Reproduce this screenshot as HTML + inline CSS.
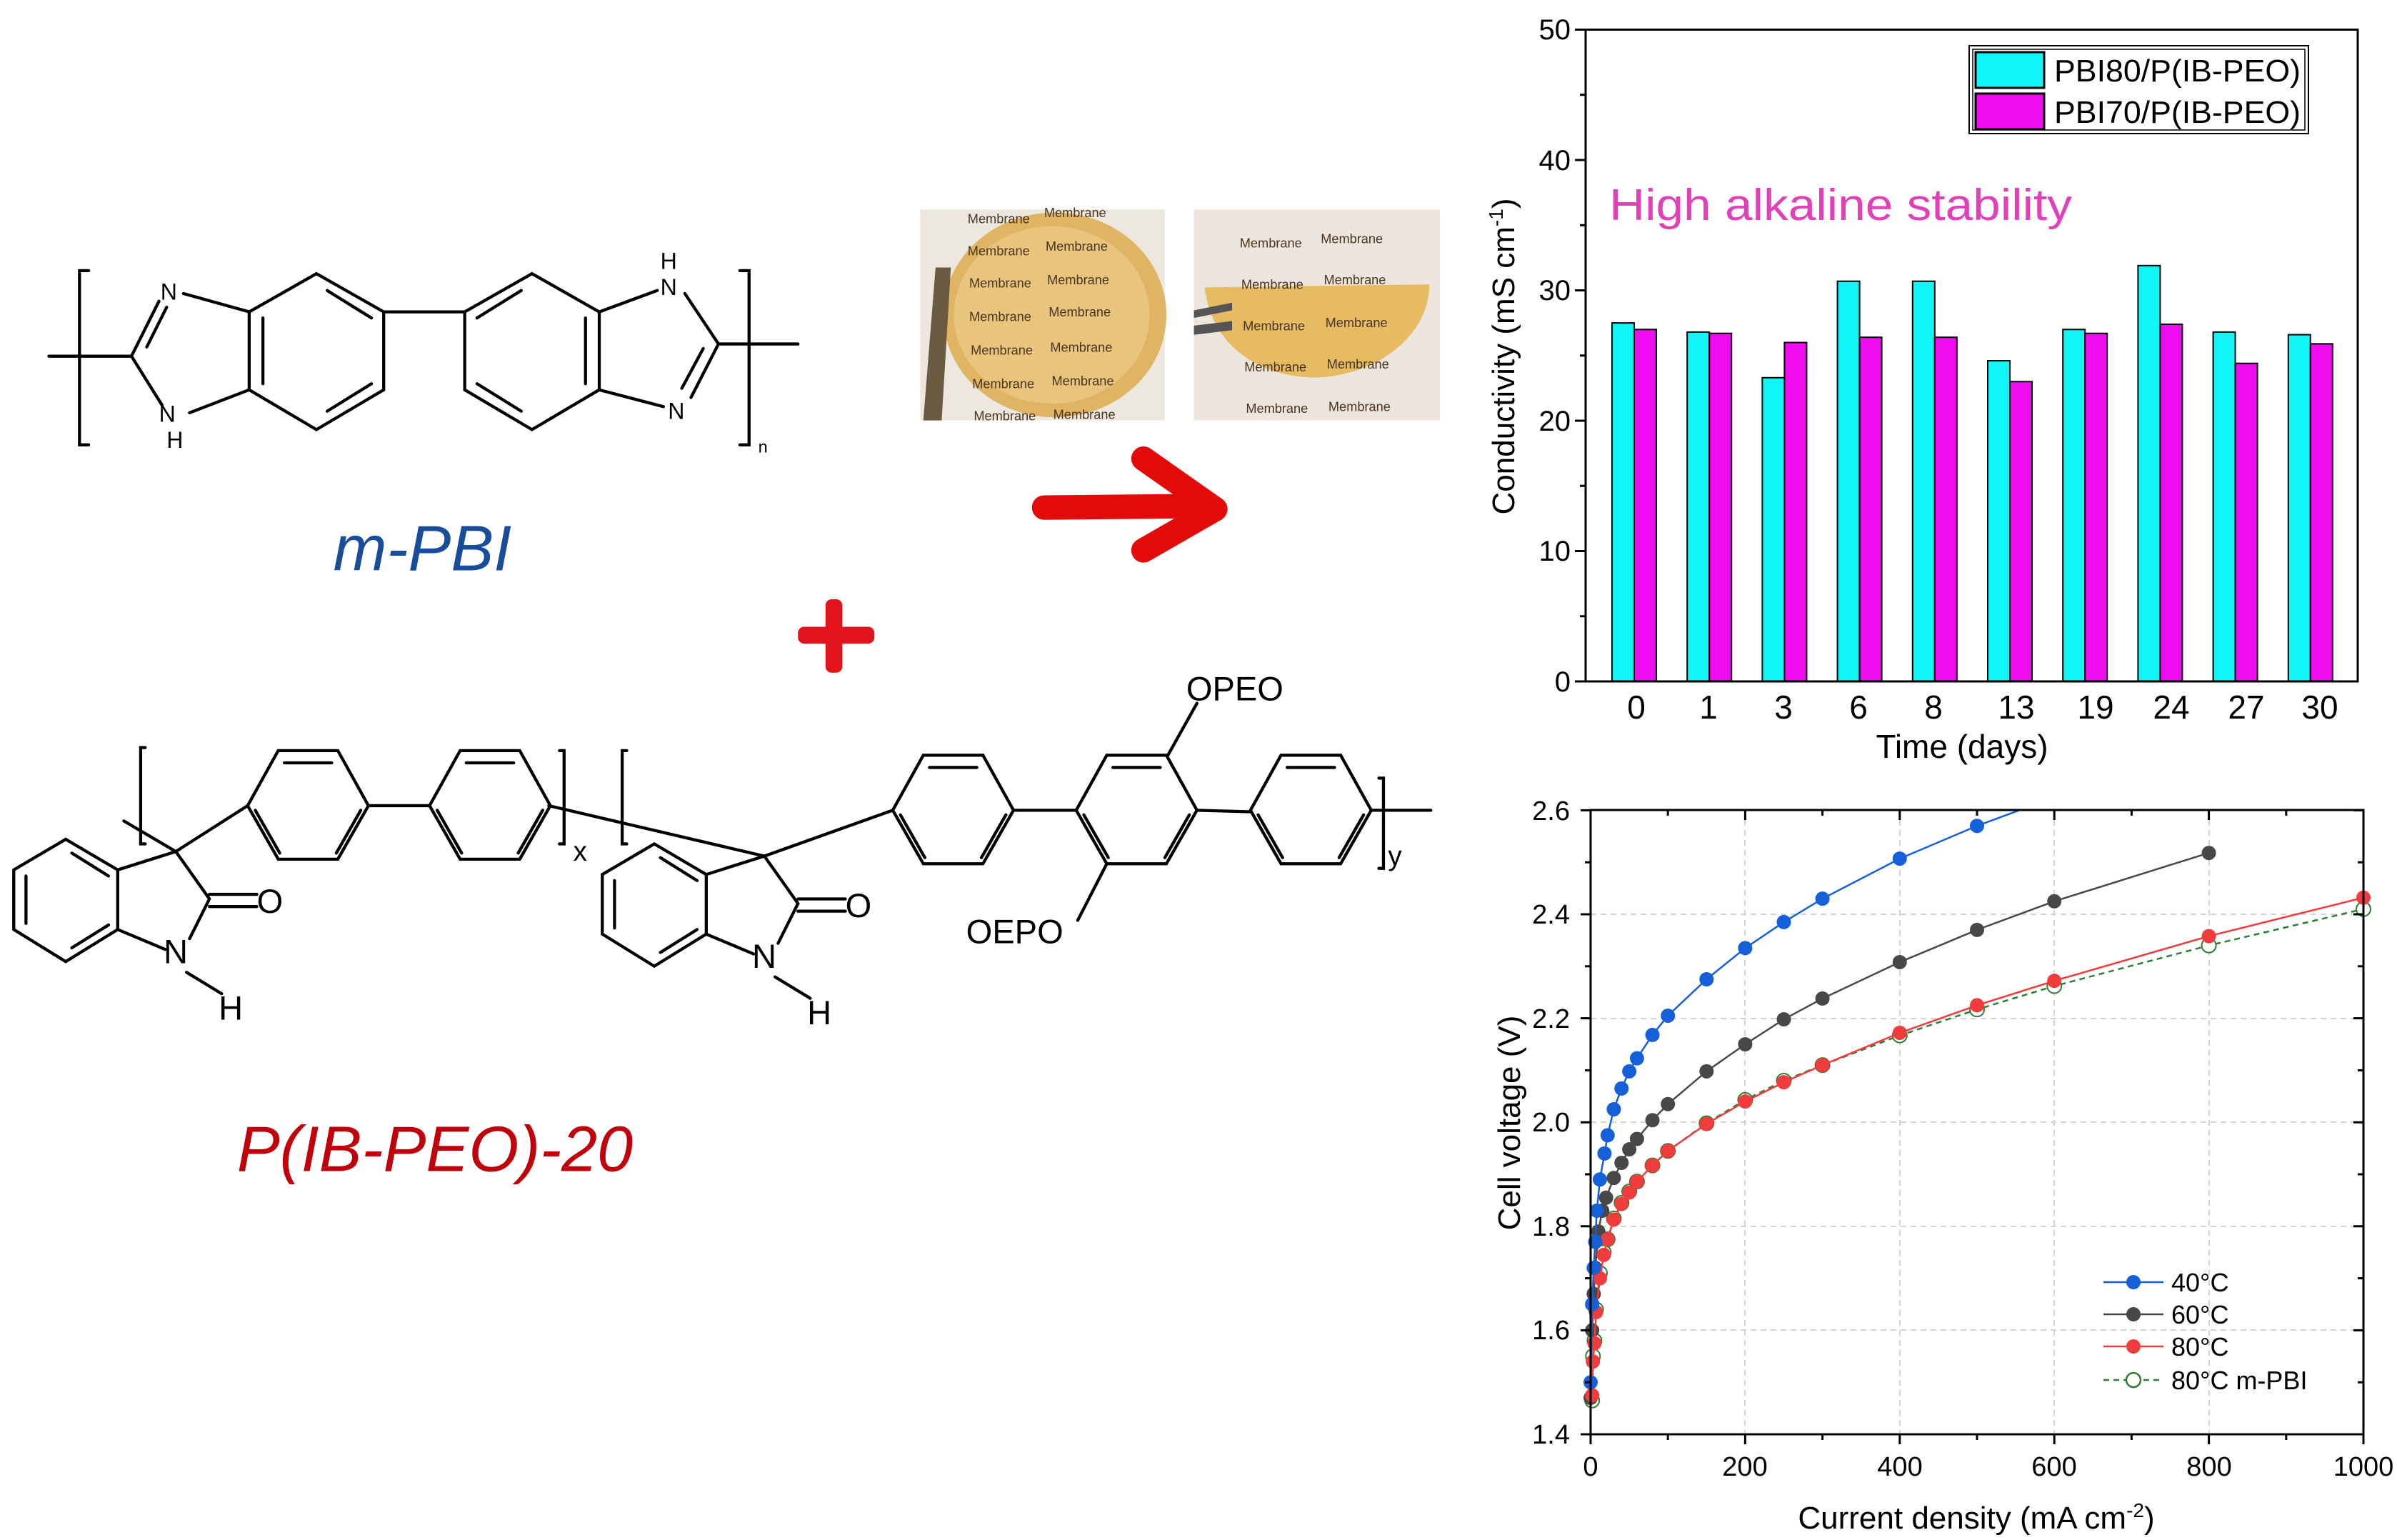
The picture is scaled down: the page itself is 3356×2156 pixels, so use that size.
<!DOCTYPE html>
<html><head><meta charset="utf-8">
<style>
html,body{margin:0;padding:0;background:#fff;}
svg{display:block;}
text{font-family:"Liberation Sans",Arial,sans-serif;}
</style></head>
<body>
<svg id="s" width="3356" height="2156" viewBox="0 0 3356 2156" xmlns="http://www.w3.org/2000/svg">
<rect width="3356" height="2156" fill="#fff"/>
<g transform="scale(2.1403)" stroke="#000" stroke-width="2" fill="none" stroke-linecap="round">
  <path d="M58,177 L52,177 L52,291 L58,291"/>
  <path d="M484,177 L490,177 L490,291 L484,291"/>
  <line x1="32" y1="233" x2="86" y2="233"/>
  <line x1="470" y1="225" x2="522" y2="225"/>
  <polygon points="207,179 251,204 251,255 207,281 163,255 163,204"/>
  <line x1="214" y1="190" x2="243" y2="208"/><line x1="243" y1="251" x2="214" y2="269"/><line x1="172" y1="208" x2="172" y2="251"/>
  <polygon points="348,179 392,204 392,255 348,281 304,255 304,204"/>
  <line x1="341" y1="190" x2="312" y2="208"/><line x1="312" y1="251" x2="341" y2="269"/><line x1="383" y1="208" x2="383" y2="251"/>
  <line x1="251" y1="204" x2="304" y2="204"/>
  <path d="M163,204 L120,192 M104,197 L86,233 L106,265 M124,270 L163,255"/>
  <line x1="96" y1="227" x2="109" y2="201"/>
  <path d="M392,204 L430,190 M448,192 L470,225 L452,260 M434,266 L392,255"/>
  <line x1="460" y1="228" x2="446" y2="254"/>
</g>
<g transform="scale(2.1403)" font-size="15" fill="#000">
  <text x="105" y="196">N</text>
  <text x="104" y="276">N</text><text x="109" y="293">H</text>
  <text x="432" y="176">H</text><text x="432" y="193">N</text>
  <text x="437" y="274">N</text>
  <text x="496" y="296" font-size="11">n</text>
  <text x="218" y="373" font-size="42" fill="#1a4c9c" font-style="italic" font-family="DejaVu Sans">m-PBI</text>
  <text x="155" y="766" font-size="42" fill="#c0000a" font-style="italic" font-family="DejaVu Sans">P(IB-PEO)-20</text>
</g>
<g transform="scale(2.1403)" fill="#e0141a">
  <rect x="522" y="410" width="50" height="11" rx="4"/>
  <rect x="540" y="392" width="11" height="48" rx="4"/>
</g>
<g transform="scale(2.1403)" stroke="#e30a0a" stroke-linecap="round" stroke-linejoin="round" fill="none">
  <line x1="683" y1="332" x2="788" y2="331" stroke-width="16"/>
  <polyline points="748,300 795,333 748,360" stroke-width="16"/>
</g>
<g transform="scale(2.1403)">
  <rect x="602" y="137" width="160" height="138" fill="#ece7df"/>
  <ellipse cx="690" cy="206" rx="73" ry="67" fill="#dfb563"/>
  <ellipse cx="688" cy="206" rx="64" ry="58" fill="#e8c47c"/>
  <path d="M604,275 L612,175 L622,175 L616,275 Z" fill="#6b5a42"/>
  <rect x="781" y="137" width="161" height="138" fill="#ece6de"/>
  <path d="M788,188 L935,186 C935,220 900,246 860,247 C818,246 792,222 788,188 Z" fill="#e6bb62"/>
  <path d="M781,203 L806,198 L806,203 L781,208 Z M781,213 L806,210 L806,216 L781,219 Z" fill="#555"/>
</g>
<g transform="scale(2.1403)" font-size="8.5" fill="#4a3520">
  <text x="633" y="146">Membrane</text><text x="683" y="142">Membrane</text>
  <text x="633" y="167">Membrane</text><text x="684" y="164">Membrane</text>
  <text x="634" y="188">Membrane</text><text x="685" y="186">Membrane</text>
  <text x="634" y="210">Membrane</text><text x="686" y="207">Membrane</text>
  <text x="635" y="232">Membrane</text><text x="687" y="230">Membrane</text>
  <text x="636" y="254">Membrane</text><text x="688" y="252">Membrane</text>
  <text x="637" y="275">Membrane</text><text x="689" y="274">Membrane</text>
  <text x="811" y="162">Membrane</text><text x="864" y="159">Membrane</text>
  <text x="812" y="189">Membrane</text><text x="866" y="186">Membrane</text>
  <text x="813" y="216">Membrane</text><text x="867" y="214">Membrane</text>
  <text x="814" y="243">Membrane</text><text x="868" y="241">Membrane</text>
  <text x="815" y="270">Membrane</text><text x="869" y="269">Membrane</text>
</g>
<g transform="scale(2.1403)" stroke="#000" stroke-width="2" fill="none" stroke-linecap="round">
  <path d="M95,489 L92,489 L92,552 L95,552"/>
  <path d="M366,491 L369,491 L369,552 L366,552"/>
  <path d="M410,491 L407,491 L407,552 L410,552"/>
  <path d="M902,509 L905,509 L905,568 L902,568"/>
  <g id="hx">
  <polygon points="182,491 221,491 241,527 221,562 182,562 162,527"/>
  <line x1="186" y1="499" x2="217" y2="499"/><line x1="167" y1="530" x2="183" y2="558"/><line x1="236" y1="530" x2="220" y2="558"/>
  </g>
  <use href="#hx" x="119" y="0"/>
  <use href="#hx" x="422" y="3"/>
  <use href="#hx" x="542" y="3"/>
  <use href="#hx" x="656" y="3"/>
  <line x1="241" y1="527" x2="281" y2="527"/>
  <line x1="663" y1="530" x2="704" y2="530"/>
  <line x1="783" y1="530" x2="818" y2="531"/>
  <line x1="897" y1="530" x2="936" y2="530"/>
  <line x1="764" y1="494" x2="783" y2="460"/>
  <line x1="724" y1="565" x2="705" y2="602"/>
  <g id="is">
  <polygon points="43,549 77,569 77,608 43,629 9,608 9,569"/>
  <line x1="47" y1="558" x2="71" y2="573"/><line x1="17" y1="573" x2="17" y2="604"/><line x1="47" y1="620" x2="71" y2="605"/>
  <path d="M77,569 L115,557 L137,588 L124,614 M108,621 L77,608"/>
  <line x1="137" y1="585" x2="168" y2="585"/><line x1="137" y1="593" x2="168" y2="593"/>
  <line x1="122" y1="636" x2="145" y2="650"/>
  </g>
  <use href="#is" x="385" y="3"/>
  <line x1="81" y1="537" x2="115" y2="557"/>
  <line x1="115" y1="557" x2="162" y2="527"/>
  <line x1="359" y1="527" x2="500" y2="560"/>
  <line x1="500" y1="560" x2="584" y2="530"/>
</g>
<g transform="scale(2.1403)" font-size="22" fill="#000">
  <text x="168" y="597">O</text><text x="107" y="630">N</text><text x="143" y="667">H</text>
  <text x="553" y="600">O</text><text x="492" y="633">N</text><text x="528" y="670">H</text>
  <text x="776" y="458">OPEO</text><text x="632" y="617">OEPO</text>
  <text x="375" y="563" font-size="18">x</text><text x="908" y="566" font-size="18">y</text>
</g>

<g id="bars"></g>
<rect x="2220" y="41.5" width="1081" height="912.5" fill="none" stroke="#000" stroke-width="3"/>
<g stroke="#000" stroke-width="3">
  <line x1="2205" y1="954" x2="2220" y2="954"/><line x1="2205" y1="771.5" x2="2220" y2="771.5"/><line x1="2205" y1="589" x2="2220" y2="589"/><line x1="2205" y1="406.5" x2="2220" y2="406.5"/><line x1="2205" y1="224" x2="2220" y2="224"/><line x1="2205" y1="41.5" x2="2220" y2="41.5"/>
  <line x1="2212" y1="862.75" x2="2220" y2="862.75"/><line x1="2212" y1="680.25" x2="2220" y2="680.25"/><line x1="2212" y1="497.75" x2="2220" y2="497.75"/><line x1="2212" y1="315.25" x2="2220" y2="315.25"/><line x1="2212" y1="132.75" x2="2220" y2="132.75"/>
</g>
<g font-size="40" text-anchor="end" fill="#000">
  <text x="2199" y="968">0</text><text x="2199" y="785">10</text><text x="2199" y="603">20</text><text x="2199" y="420">30</text><text x="2199" y="238">40</text><text x="2199" y="55">50</text>
</g>
<g font-size="46" text-anchor="middle" fill="#000">
  <text x="2291" y="1006">0</text><text x="2392" y="1006">1</text><text x="2497" y="1006">3</text><text x="2602" y="1006">6</text><text x="2707" y="1006">8</text><text x="2823" y="1006">13</text><text x="2934" y="1006">19</text><text x="3040" y="1006">24</text><text x="3145" y="1006">27</text><text x="3248" y="1006">30</text>
  <text x="2747" y="1061" font-size="46">Time (days)</text>
</g>
<text transform="translate(2120,499) rotate(-90)" font-size="44" text-anchor="middle">Conductivity (mS cm<tspan dy="-16" font-size="28">-1</tspan><tspan dy="16">)</tspan></text>
<text x="2253" y="308" font-size="62" fill="#e040b8" font-family="DejaVu Sans" textLength="648" lengthAdjust="spacingAndGlyphs">High alkaline stability</text>
<rect x="2757" y="64" width="475" height="123" fill="#fff" stroke="#000" stroke-width="2"/>
<rect x="2762" y="69" width="465" height="113" fill="none" stroke="#000" stroke-width="1.5"/>
<rect x="2766" y="73" width="96" height="50" fill="#10f5f5" stroke="#000" stroke-width="3"/>
<rect x="2766" y="131" width="96" height="50" fill="#f00cf0" stroke="#000" stroke-width="3"/>
<g font-size="44" fill="#000">
  <text x="2876" y="114" textLength="345" lengthAdjust="spacingAndGlyphs">PBI80/P(IB-PEO)</text>
  <text x="2876" y="172" textLength="345" lengthAdjust="spacingAndGlyphs">PBI70/P(IB-PEO)</text>
</g>

<g stroke="#d4d4d4" stroke-width="2" stroke-dasharray="8,6">
  <line x1="2443" y1="1134" x2="2443" y2="2008"/><line x1="2660" y1="1134" x2="2660" y2="2008"/><line x1="2876" y1="1134" x2="2876" y2="2008"/><line x1="3093" y1="1134" x2="3093" y2="2008"/>
  <line x1="2227" y1="1862" x2="3309" y2="1862"/><line x1="2227" y1="1717" x2="3309" y2="1717"/><line x1="2227" y1="1571" x2="3309" y2="1571"/><line x1="2227" y1="1426" x2="3309" y2="1426"/><line x1="2227" y1="1280" x2="3309" y2="1280"/>
</g>
<clipPath id="pc"><rect x="2216" y="1134" width="1104" height="885"/></clipPath>
<g id="lines" clip-path="url(#pc)"></g>
<rect x="2227" y="1134" width="1082" height="874" fill="none" stroke="#000" stroke-width="3"/>
<g id="lticks" stroke="#000" stroke-width="3"></g>
<g font-size="38" text-anchor="end" fill="#000">
  <text x="2198" y="2021">1.4</text><text x="2198" y="1875">1.6</text><text x="2198" y="1730">1.8</text><text x="2198" y="1584">2.0</text><text x="2198" y="1439">2.2</text><text x="2198" y="1293">2.4</text><text x="2198" y="1148">2.6</text>
</g>
<g font-size="38" text-anchor="middle" fill="#000">
  <text x="2227" y="2066">0</text><text x="2443" y="2066">200</text><text x="2660" y="2066">400</text><text x="2876" y="2066">600</text><text x="3093" y="2066">800</text><text x="3309" y="2066">1000</text>
</g>
<text x="2767" y="2140" font-size="44" text-anchor="middle">Current density (mA cm<tspan dy="-16" font-size="28">-2</tspan><tspan dy="16">)</tspan></text>
<text transform="translate(2128,1572) rotate(-90)" font-size="44" text-anchor="middle">Cell voltage (V)</text>
<g stroke-width="2.5">
  <line x1="2945" y1="1795" x2="3029" y2="1795" stroke="#1560d8"/><circle cx="2987" cy="1795" r="10" fill="#1560d8"/>
  <line x1="2945" y1="1840" x2="3029" y2="1840" stroke="#484848"/><circle cx="2987" cy="1840" r="10" fill="#484848"/>
  <line x1="2945" y1="1885" x2="3029" y2="1885" stroke="#f03c3c"/><circle cx="2987" cy="1885" r="10" fill="#f03c3c"/>
  <line x1="2945" y1="1932" x2="3029" y2="1932" stroke="#2e7d32" stroke-dasharray="8,6"/><circle cx="2987" cy="1932" r="10" fill="#fff" stroke="#2e7d32"/>
</g>
<g font-size="36" fill="#000">
  <text x="3040" y="1808">40°C</text><text x="3040" y="1853">60°C</text><text x="3040" y="1898">80°C</text><text x="3040" y="1945">80°C m-PBI</text>
</g>
</svg>
<script>
var NS="http://www.w3.org/2000/svg";
function el(p,t,a){var e=document.createElementNS(NS,t);for(var k in a)e.setAttribute(k,a[k]);p.appendChild(e);return e;}
var bars=document.getElementById('bars');
var cy=[27.5,26.8,23.3,30.7,30.7,24.6,27.0,31.9,26.8,26.6],mg=[27.0,26.7,26.0,26.4,26.4,23.0,26.7,27.4,24.4,25.9];
for(var i=0;i<10;i++){var c=2288+i*105.2;
 el(bars,'rect',{x:c-31,y:954-18.25*cy[i],width:31,height:18.25*cy[i],fill:'#10f5f5',stroke:'#000','stroke-width':2});
 el(bars,'rect',{x:c,y:954-18.25*mg[i],width:31,height:18.25*mg[i],fill:'#f00cf0',stroke:'#000','stroke-width':2});}
function X(v){return 2227+1.082*v;}function Y(v){return 2008-728*(v-1.4);}
var s40=[[0,1.5],[2,1.65],[4,1.72],[6,1.77],[8,1.83],[12,1.89],[18,1.94],[22,1.975],[30,2.025],[40,2.065],[50,2.098],[60,2.123],[80,2.168],[100,2.205],[150,2.275],[200,2.335],[250,2.385],[300,2.43],[400,2.507],[500,2.57],[600,2.625]];
var s60=[[0,1.47],[2,1.6],[4,1.67],[6,1.72],[10,1.79],[15,1.83],[20,1.855],[30,1.893],[40,1.922],[50,1.948],[60,1.968],[80,2.004],[100,2.035],[150,2.098],[200,2.15],[250,2.198],[300,2.238],[400,2.308],[500,2.37],[600,2.425],[800,2.518]];
var s80=[[2,1.475],[3,1.54],[5,1.575],[7,1.635],[12,1.70],[17,1.745],[22,1.775],[30,1.813],[40,1.843],[50,1.865],[60,1.886],[80,1.917],[100,1.945],[150,1.997],[200,2.04],[250,2.077],[300,2.11],[400,2.172],[500,2.225],[600,2.272],[800,2.358],[1000,2.432]];
var sm=[[2,1.465],[3,1.55],[5,1.58],[7,1.64],[12,1.71],[17,1.75],[22,1.775],[30,1.815],[40,1.845],[50,1.867],[60,1.886],[80,1.917],[100,1.945],[150,1.998],[200,2.043],[250,2.08],[300,2.11],[400,2.167],[500,2.217],[600,2.262],[800,2.34],[1000,2.41]];
var L=document.getElementById('lines');
function ser(d,col,open,dash){var p=d.map(function(q){return X(q[0])+','+Y(q[1]);}).join(' ');
 var a={points:p,fill:'none',stroke:col,'stroke-width':2.5};if(dash)a['stroke-dasharray']='8,6';el(L,'polyline',a);
 d.forEach(function(q){el(L,'circle',{cx:X(q[0]),cy:Y(q[1]),r:10,fill:open?'#fff':col,stroke:open?col:'none','stroke-width':2});});}
ser(sm,'#2e7d32',true,true);ser(s60,'#484848');ser(s80,'#f03c3c');ser(s40,'#1560d8');
var T=document.getElementById('lticks');
for(var v=0;v<=1000;v+=100){var x=X(v),l=(v%200==0)?14:8;el(T,'line',{x1:x,y1:2008,x2:x,y2:2008+l});el(T,'line',{x1:x,y1:1134,x2:x,y2:1134+l});}
for(var k=0;k<=12;k++){var y=Y(1.4+k*0.1),l=(k%2==0)?14:8;el(T,'line',{x1:2227-l,y1:y,x2:2227,y2:y});el(T,'line',{x1:3309-l,y1:y,x2:3309,y2:y});}
</script>
</body></html>
